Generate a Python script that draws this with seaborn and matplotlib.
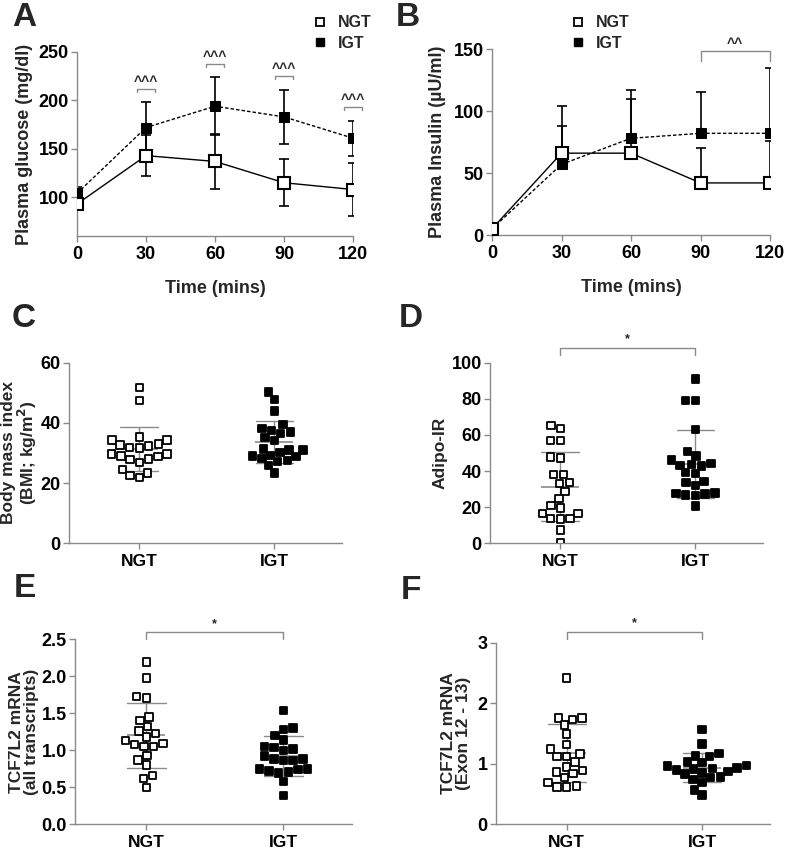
import numpy as np
import pandas as pd
import seaborn as sns
import matplotlib.pyplot as plt
from matplotlib.lines import Line2D

sns.set_style('ticks')
plt.rcParams['font.family'] = ['Liberation Sans', 'DejaVu Sans']
plt.rcParams['font.weight'] = 'bold'
plt.rcParams['axes.labelweight'] = 'bold'

GRAY = '#8a8a8a'
groups = ['NGT', 'IGT']

# OGTT time course, mean and SD
time_pts = [0, 30, 60, 90, 120]
glu_ngt = [93, 143, 137, 115, 108]
glu_ngt_sd = [6, 21, 28, 24, 27]
glu_igt = [104, 172, 194, 183, 161]
glu_igt_sd = [7, 26, 30, 28, 18]

ins_ngt = [5, 66, 66, 42, 42]
ins_ngt_sd = [0, 22, 44, 28, 34]
ins_igt = [5, 57, 78, 82, 82]
ins_igt_sd = [0, 47, 39, 33, 53]

# individual subjects
bmi_ngt = [51.7, 47.4, 35.3, 34.3, 34.3, 33.0, 32.4, 31.6, 31.8, 32.7, 29.6,
           28.8, 27.9, 26.9, 28.0, 29.0, 29.7, 23.4, 21.8, 22.6, 24.6]
bmi_igt = [50.2, 47.8, 43.9, 39.5, 37.5, 36.5, 38.1, 36.9, 35.1, 34.1, 31.4,
           31.0, 31.0, 30.2, 29.2, 28.8, 27.5, 27.1, 28.1, 29.0, 25.9, 23.4]

adipo_ngt = [65.1, 63.5, 57.0, 57.0, 47.2, 47.8, 38.2, 38.0, 33.8, 33.2, 28.8,
             24.7, 20.8, 19.6, 16.6, 13.7, 13.8, 16.6, 13.5, 7.4, 0.4]
adipo_igt = [91.1, 79.0, 79.0, 62.9, 50.9, 48.3, 46.1, 44.1, 42.8, 43.2, 43.7,
             38.7, 39.1, 33.6, 34.3, 31.9, 27.9, 27.3, 26.8, 26.4, 27.7, 20.7]

tcf_all_ngt = [2.19, 1.98, 1.73, 1.71, 1.40, 1.45, 1.26, 1.23, 1.32, 1.13, 1.08,
               1.05, 1.05, 1.09, 1.18, 0.87, 0.93, 0.80, 0.66, 0.62, 0.50]
tcf_all_igt = [1.54, 1.28, 1.30, 1.20, 1.14, 1.04, 1.00, 1.02, 1.05, 0.92, 0.88,
               0.86, 0.88, 0.86, 0.72, 0.74, 0.75, 0.75, 0.71, 0.69, 0.58, 0.39]

tcf_ex_ngt = [2.42, 1.76, 1.73, 1.76, 1.64, 1.49, 1.32, 1.24, 1.12, 1.12, 1.16,
              1.03, 0.95, 0.86, 0.84, 0.89, 0.77, 0.69, 0.63, 0.62, 0.62]
tcf_ex_igt = [1.57, 1.33, 1.13, 1.12, 1.17, 1.03, 1.02, 0.96, 0.93, 0.91, 0.90,
              0.92, 0.97, 0.87, 0.85, 0.83, 0.78, 0.77, 0.74, 0.69, 0.57, 0.48]


def style_axes(ax, tick_size):
    sns.despine(ax=ax)
    for s in ['left', 'bottom']:
        ax.spines[s].set_color(GRAY)
        ax.spines[s].set_linewidth(1.0)
    ax.tick_params(colors=GRAY, labelcolor='black', labelsize=tick_size, length=4, width=1.0)
    ax.tick_params(axis='y', pad=2)
    for lab in ax.get_xticklabels() + ax.get_yticklabels():
        lab.set_fontweight('bold')


def time_panel(ax, ngt, ngt_sd, igt, igt_sd, upper_only):
    df = pd.DataFrame({'time': time_pts * 2, 'val': ngt + igt,
                       'group': ['NGT'] * len(ngt) + ['IGT'] * len(igt)})
    low_n = np.zeros(len(ngt)) if upper_only else ngt_sd
    low_i = np.zeros(len(igt)) if upper_only else igt_sd
    ax.errorbar(time_pts, igt, yerr=[low_i, igt_sd], fmt='none', ecolor='black',
                elinewidth=1.2, capsize=3.5, capthick=1.2, zorder=2)
    ax.errorbar(time_pts, ngt, yerr=[low_n, ngt_sd], fmt='none', ecolor='black',
                elinewidth=1.2, capsize=3.5, capthick=1.2, zorder=2)
    sns.lineplot(data=df[df.group == 'IGT'], x='time', y='val', color='black',
                 linestyle=(0, (2.5, 1.5)), linewidth=1.0, marker='s', markersize=7,
                 markerfacecolor='black', markeredgecolor='black', ax=ax, zorder=3)
    sns.lineplot(data=df[df.group == 'NGT'], x='time', y='val', color='black',
                 linewidth=1.0, marker='s', markersize=8, markerfacecolor='white',
                 markeredgecolor='black', markeredgewidth=1.5, ax=ax, zorder=4)
    ax.set_xlim(0, 120)
    ax.set_xticks(time_pts)
    ax.set_xlabel('Time (mins)', fontsize=13, labelpad=12)


def dot_panel(ax, ngt, igt, ylabel, ylim, yticks, fmt, label_x):
    df = pd.DataFrame({'group': ['NGT'] * len(ngt) + ['IGT'] * len(igt),
                       'val': ngt + igt})
    sns.swarmplot(data=df, x='group', y='val', hue='group', order=groups, hue_order=groups,
                  palette={'NGT': 'white', 'IGT': 'black'}, marker='s', size=5.4,
                  edgecolor='black', linewidth=1.3, legend=False, ax=ax)
    sns.pointplot(data=df, x='group', y='val', order=groups, errorbar='sd', color=GRAY,
                  marker='_', markersize=28, markeredgewidth=1.2, linestyle='none',
                  capsize=0.28, err_kws={'linewidth': 1.0}, ax=ax)
    ax.set_xlim(-0.52, 1.5)
    ax.set_ylim(*ylim)
    ax.set_yticks(yticks)
    ax.set_yticklabels([fmt.format(t) for t in yticks])
    ax.set_xlabel('')
    ax.set_ylabel(ylabel, fontsize=12.5, linespacing=1.0)
    ax.yaxis.set_label_coords(label_x, 0.5)
    style_axes(ax, 13)
    ax.tick_params(axis='x', labelsize=12.5)


def bracket(ax, x0, x1, y, drop, label, fs=9, gap=0.0):
    ax.plot([x0, x0, x1, x1], [y - drop, y, y, y - drop], color=GRAY, lw=1.0, clip_on=False)
    ax.text((x0 + x1) / 2, y + gap, label, ha='center', va='bottom', fontsize=fs,
            fontweight='bold', clip_on=False)


fig = plt.figure(figsize=(7.86, 8.49), dpi=100)
W, H = 786, 849


def add_ax(left, right, top, bottom):
    return fig.add_axes([left / W, 1 - bottom / H, (right - left) / W, (bottom - top) / H])


axA = add_ax(77, 353, 52, 236)
axB = add_ax(492, 770, 49, 235)
axC = add_ax(69, 342, 362.7, 543.3)
axD = add_ax(490, 763, 362.7, 543.3)
axE = add_ax(75, 352, 639.3, 824.3)
axF = add_ax(496, 770, 642.7, 824.3)

# A: glucose
time_panel(axA, glu_ngt, glu_ngt_sd, glu_igt, glu_igt_sd, upper_only=False)
axA.set_ylim(60, 250)
axA.set_yticks([100, 150, 200, 250])
axA.set_ylabel('Plasma glucose (mg/dl)', fontsize=13)
axA.yaxis.set_label_coords(-0.159, 0.5)
style_axes(axA, 13)
for t, m, s in zip(time_pts[1:], glu_igt[1:], glu_igt_sd[1:]):
    bracket(axA, t - 4, t + 4, m + s + 14, 3, '^^^', fs=10)

# B: insulin
time_panel(axB, ins_ngt, ins_ngt_sd, ins_igt, ins_igt_sd, upper_only=True)
axB.set_ylim(0, 150)
axB.set_yticks([0, 50, 100, 150])
axB.set_ylabel('Plasma Insulin (\u00b5U/ml)', fontsize=13)
axB.yaxis.set_label_coords(-0.165, 0.5)
style_axes(axB, 13)
bracket(axB, 90, 120, 148, 8, '^^', fs=10)

# C-F: individual values with mean +/- SD
dot_panel(axC, bmi_ngt, bmi_igt, 'Body mass index\n(BMI; kg/m$^\\mathbf{2}$)',
          (0, 60), [0, 20, 40, 60], '{:d}', -0.11)
dot_panel(axD, adipo_ngt, adipo_igt, 'Adipo-IR', (0, 100), [0, 20, 40, 60, 80, 100],
          '{:d}', -0.154)
bracket(axD, 0, 1, 108, 3.7, '*', fs=9, gap=1.5)
dot_panel(axE, tcf_all_ngt, tcf_all_igt, 'TCF7L2 mRNA\n(all transcripts)', (0, 2.5),
          [0.0, 0.5, 1.0, 1.5, 2.0, 2.5], '{:.1f}', -0.13)
bracket(axE, 0, 1, 2.6, 0.09, '*', fs=9, gap=0.03)
dot_panel(axF, tcf_ex_ngt, tcf_ex_igt, 'TCF7L2 mRNA\n(Exon 12 - 13)', (0, 3), [0, 1, 2, 3],
          '{:d}', -0.091)
bracket(axF, 0, 1, 3.18, 0.12, '*', fs=9, gap=0.04)

# legends
handles = [Line2D([], [], marker='s', ls='none', mfc='white', mec='black', mew=1.3, ms=6),
           Line2D([], [], marker='s', ls='none', mfc='black', mec='black', ms=6)]
for x in [298, 556]:
    fig.legend(handles, groups, loc='upper left', bbox_to_anchor=(x / W, 1 - 1 / H),
               frameon=False, handletextpad=0.6, labelspacing=0.35,
               handlelength=1.0, prop={'weight': 'bold', 'size': 11.5})

# panel letters
for letter, x, y in [('A', 12, 2), ('B', 396, 2), ('C', 12, 303), ('D', 399, 303),
                     ('E', 14, 573), ('F', 401, 575)]:
    fig.text(x / W, 1 - y / H, letter, fontsize=24, fontweight='bold', va='top', ha='left')

plt.savefig('out.png', dpi=100)
